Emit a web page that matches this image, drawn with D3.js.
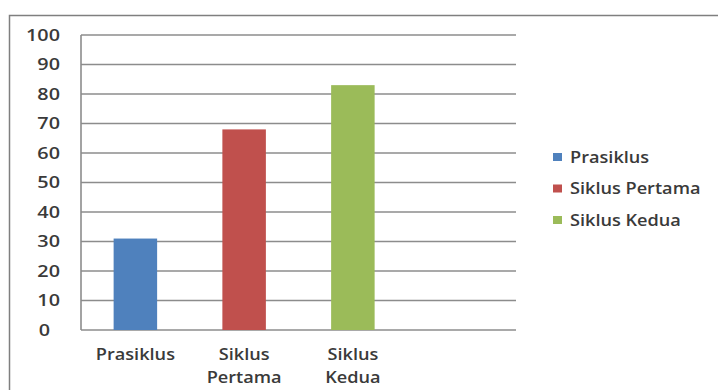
<!DOCTYPE html>
<html><head><meta charset="utf-8">
<script src="https://cdn.jsdelivr.net/npm/d3@7"></script>
<style>body{margin:0;background:#fff}svg{display:block}text{font-family:"Open Sans",sans-serif;fill:#3a3a3a;font-weight:600}</style>
</head><body>
<script>
const categories = ["Prasiklus", "Siklus Pertama", "Siklus Kedua", ""];
const categoryLines = [["Prasiklus"], ["Siklus", "Pertama"], ["Siklus", "Kedua"], []];
const seriesNames = ["Prasiklus", "Siklus Pertama", "Siklus Kedua"];
const seriesValues = [31, 68, 83];
const seriesColors = ["#4F81BD", "#C0504D", "#9BBB59"];
const yTicks = [0, 10, 20, 30, 40, 50, 60, 70, 80, 90, 100];

const W = 718, H = 390;
const svg = d3.select("body").append("svg").attr("width", W).attr("height", H);
svg.append("rect").attr("x", 9.5).attr("y", 15.5).attr("width", 720).attr("height", 400)
  .attr("fill", "#fff").attr("stroke", "#7f7f7f").attr("stroke-width", 1.5);

const plot = {left: 81, right: 516, top: 35, bottom: 330};
const x = d3.scaleBand().domain(categories).range([plot.left, plot.right]).paddingInner(0).paddingOuter(0);
const y = d3.scaleLinear().domain([0, 100]).range([plot.bottom, plot.top]);
const sx = 1.1;
const fs = "16.5px";

// gridlines
svg.append("g").selectAll("line").data(yTicks).join("line")
  .attr("x1", plot.left).attr("x2", plot.right)
  .attr("y1", d => y(d)).attr("y2", d => y(d))
  .attr("stroke", "#8c8c8c").attr("stroke-width", 1.6);

// bars
const bw = x.bandwidth() * 0.4;
svg.append("g").selectAll("rect").data(seriesValues).join("rect")
  .attr("x", (d, i) => x(categories[i]) + (x.bandwidth() - bw) / 2)
  .attr("width", bw)
  .attr("y", d => y(d)).attr("height", d => y(0) - y(d))
  .attr("fill", (d, i) => seriesColors[i]);

// left axis line
svg.append("line").attr("x1", plot.left).attr("x2", plot.left).attr("y1", plot.top).attr("y2", plot.bottom)
  .attr("stroke", "#8c8c8c").attr("stroke-width", 1.6);

// y tick labels
svg.append("g").selectAll("g").data(yTicks).join("g")
  .attr("transform", d => `translate(${d === 0 ? 50 : 60},${y(d)}) scale(1.2,1)`)
  .append("text").attr("text-anchor", "end").attr("dy", "0.35em")
  .style("font-size", fs).text(d => d);

// x labels
const xl = svg.append("g").selectAll("g").data(categories).join("g")
  .attr("transform", d => `translate(${x(d) + x.bandwidth() / 2},360) scale(${sx},1)`);
xl.each(function(d, i) {
  d3.select(this).selectAll("text").data(categoryLines[i]).join("text")
    .attr("text-anchor", "middle").attr("y", (t, j) => j * 23)
    .style("font-size", fs).text(t => t);
});

// legend
const lg = svg.append("g").selectAll("g").data(seriesNames).join("g")
  .attr("transform", (d, i) => `translate(553,${157 + i * 31.5})`);
lg.append("rect").attr("x", 0).attr("y", -4).attr("width", 9).attr("height", 8)
  .attr("fill", (d, i) => seriesColors[i]);
lg.append("g").attr("transform", `translate(17,0) scale(${sx},1)`)
  .append("text").attr("dy", "0.35em").style("font-size", fs).text(d => d);
</script>
</body></html>
